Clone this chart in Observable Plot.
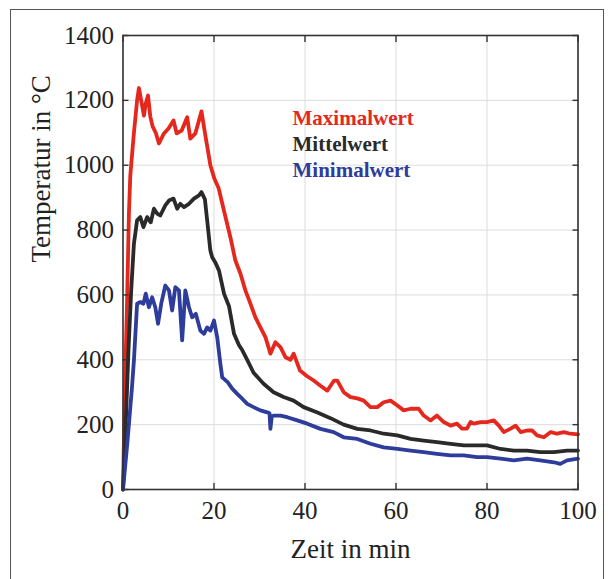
<!DOCTYPE html>
<html>
<head>
<meta charset="utf-8">
<script src="https://cdn.jsdelivr.net/npm/d3@7"></script>
<script src="https://cdn.jsdelivr.net/npm/@observablehq/plot@0.6"></script>
<style>
  html, body { margin: 0; padding: 0; background: #fff; }
  #wrap { position: relative; width: 609px; height: 579px; overflow: hidden; }
  #border { position: absolute; left: 10px; top: 9px; width: 594px; height: 600px;
            border: 1.5px solid #555; box-sizing: border-box; }
  #chart { position: absolute; left: 0; top: 0; }
</style>
</head>
<body>
<div id="wrap"><div id="border"></div><div id="chart"></div></div>
<script>
// ---- data ----
const xTicks = [0, 20, 40, 60, 80, 100];
const yTicks = [0, 200, 400, 600, 800, 1000, 1200, 1400];
const seriesNames = ["Maximalwert", "Mittelwert", "Minimalwert"];
const seriesColors = ["#e5281d", "#2a2a2a", "#2e3c9c"];

const maxT = [0, 0.4, 0.9, 1.3, 1.6, 2.4, 3.1, 3.5, 4.0, 4.6, 5.0, 5.5, 6.0, 6.5, 7.2, 7.9, 9.0, 10.0, 11.1, 11.8, 12.9, 14.1, 14.8, 15.9, 17.25, 18.1, 19.2, 20.1, 21.0, 22.1, 23.6, 24.7, 25.8, 26.9, 28.0, 29.1, 30.2, 31.3, 32.4, 33.5, 34.6, 35.7, 36.8, 37.5, 38.9, 40.4, 41.9, 43.4, 44.9, 46.4, 47.1, 48.5, 50.0, 51.5, 52.9, 54.4, 55.9, 57.3, 58.8, 60.3, 61.7, 63.2, 65.0, 66.1, 67.6, 69.0, 70.5, 72.0, 73.4, 74.5, 75.6, 76.4, 77.1, 78.6, 80.0, 81.5, 82.6, 83.7, 85.1, 86.3, 87.4, 88.8, 89.9, 91.0, 92.5, 94.0, 95.4, 96.9, 98.3, 100];
const maxV = [0, 300, 583, 850, 968, 1100, 1200, 1238, 1200, 1153, 1190, 1215, 1150, 1120, 1100, 1067, 1098, 1113, 1138, 1098, 1107, 1148, 1082, 1098, 1166, 1092, 1000, 958, 930, 865, 778, 706, 666, 614, 573, 531, 500, 470, 419, 454, 439, 408, 400, 419, 367, 350, 336, 320, 305, 336, 336, 300, 285, 281, 274, 254, 254, 269, 274, 259, 244, 249, 249, 228, 213, 228, 208, 197, 203, 188, 188, 208, 203, 208, 208, 213, 197, 177, 187, 197, 177, 182, 182, 167, 161, 177, 172, 177, 172, 170];

const meanT = [0, 0.6, 1.2, 1.8, 2.4, 3.1, 3.8, 4.5, 5.3, 6.1, 6.8, 7.5, 8.2, 9.3, 10.1, 11.1, 11.9, 12.6, 13.4, 14.5, 15.6, 16.7, 17.25, 18.0, 18.5, 19.2, 19.6, 20.3, 21.1, 22.2, 23.3, 24.4, 25.5, 26.2, 27.3, 28.7, 30.9, 33.1, 35.3, 37.5, 39.7, 42.6, 45.6, 48.5, 51.5, 54.4, 57.3, 60.3, 63.2, 66.1, 69.0, 72.0, 74.9, 77.8, 80.0, 83.0, 85.9, 88.8, 91.7, 94.7, 97.6, 100];
const meanV = [0, 200, 430, 614, 758, 830, 840, 809, 840, 824, 866, 851, 845, 876, 891, 897, 866, 881, 871, 881, 897, 907, 917, 895, 830, 737, 716, 700, 675, 604, 565, 480, 445, 430, 400, 360, 326, 300, 285, 274, 254, 238, 220, 200, 187, 182, 172, 167, 156, 151, 146, 141, 136, 136, 136, 125, 120, 120, 115, 115, 120, 120];

const minT = [0, 1.0, 2.0, 2.4, 3.1, 3.8, 4.5, 5.0, 5.7, 6.4, 7.1, 7.7, 8.4, 9.3, 10.1, 10.8, 11.5, 12.3, 13.0, 13.7, 14.5, 15.2, 16.0, 17.0, 17.8, 18.5, 19.2, 20.0, 20.7, 21.4, 21.8, 23.0, 24.0, 25.1, 26.2, 27.3, 28.7, 30.2, 31.7, 32.2, 32.4, 32.7, 33.1, 34.6, 36.1, 38.3, 40.5, 43.4, 46.3, 48.5, 51.5, 54.4, 57.3, 60.3, 63.2, 66.1, 69.0, 72.0, 74.9, 77.8, 80.0, 83.0, 85.9, 88.8, 91.7, 94.7, 96.1, 97.6, 100];
const minV = [0, 150, 320, 398, 573, 578, 573, 604, 562, 593, 562, 511, 573, 629, 614, 552, 624, 614, 460, 614, 562, 531, 542, 490, 480, 500, 490, 521, 470, 388, 346, 331, 311, 295, 280, 264, 254, 244, 238, 235, 187, 225, 228, 228, 223, 213, 203, 187, 177, 161, 156, 141, 130, 125, 120, 115, 110, 105, 105, 100, 100, 95, 90, 95, 90, 84, 79, 90, 95];

const toRows = (ts, vs) => ts.map((t, i) => ({t, v: vs[i]}));
const seriesData = [toRows(maxT, maxV), toRows(meanT, meanV), toRows(minT, minV)];

const font = "'Liberation Serif', 'Times New Roman', serif";
const plain = d => String(d);

const chart = Plot.plot({
  width: 609,
  height: 579,
  marginLeft: 122.5,
  marginRight: 31.5,
  marginTop: 35,
  marginBottom: 90,
  style: {fontFamily: font, fontSize: "24px", color: "#222", background: "transparent"},
  x: {domain: [0, 100]},
  y: {domain: [0, 1400]},
  marks: [
    Plot.gridX(xTicks, {stroke: "#dcdcdc", strokeOpacity: 1, strokeWidth: 1}),
    Plot.gridY(yTicks, {stroke: "#dcdcdc", strokeOpacity: 1, strokeWidth: 1}),
    ...seriesData.map((d, i) => Plot.line(d, {x: "t", y: "v", stroke: seriesColors[i], strokeWidth: 3.8, strokeLinejoin: "round"})),
    Plot.frame({stroke: "#333", strokeWidth: 1.6}),
    // inward ticks
    Plot.axisX(xTicks, {anchor: "bottom", tickSize: 6, dy: -6, tickFormat: () => "", label: null, stroke: "#333", strokeWidth: 1.4}),
    Plot.axisX(xTicks, {anchor: "top", tickSize: 6, dy: 6, tickFormat: () => "", label: null, stroke: "#333", strokeWidth: 1.4}),
    Plot.axisY(yTicks, {anchor: "left", tickSize: 6, dx: 6, tickFormat: () => "", label: null, stroke: "#333", strokeWidth: 1.4}),
    Plot.axisY(yTicks, {anchor: "right", tickSize: 6, dx: -6, tickFormat: () => "", label: null, stroke: "#333", strokeWidth: 1.4}),
    // tick labels
    Plot.axisX(xTicks, {anchor: "bottom", tickSize: 0, tickPadding: 12, tickFormat: plain, label: null, fontSize: 25, fill: "#222"}),
    Plot.axisY(yTicks, {anchor: "left", tickSize: 0, tickPadding: 9, tickFormat: plain, label: null, fontSize: 25, fill: "#222"}),
    // axis titles
    Plot.text(["Zeit in min"], {frameAnchor: "bottom", dy: 68, lineAnchor: "bottom", fontSize: 27, fill: "#222"}),
    Plot.text(["Temperatur in °C"], {frameAnchor: "left", rotate: -90, dx: -82, fontSize: 27, fill: "#222"}),
    // in-plot legend
    ...seriesNames.map((name, i) => Plot.text([name], {
      frameAnchor: "top-left", dx: 169.5, dy: 89 + 26.3 * i, lineAnchor: "bottom", textAnchor: "start",
      fill: seriesColors[i], fontWeight: "bold", fontSize: 21
    }))
  ]
});
document.getElementById("chart").append(chart);
</script>
</body>
</html>
